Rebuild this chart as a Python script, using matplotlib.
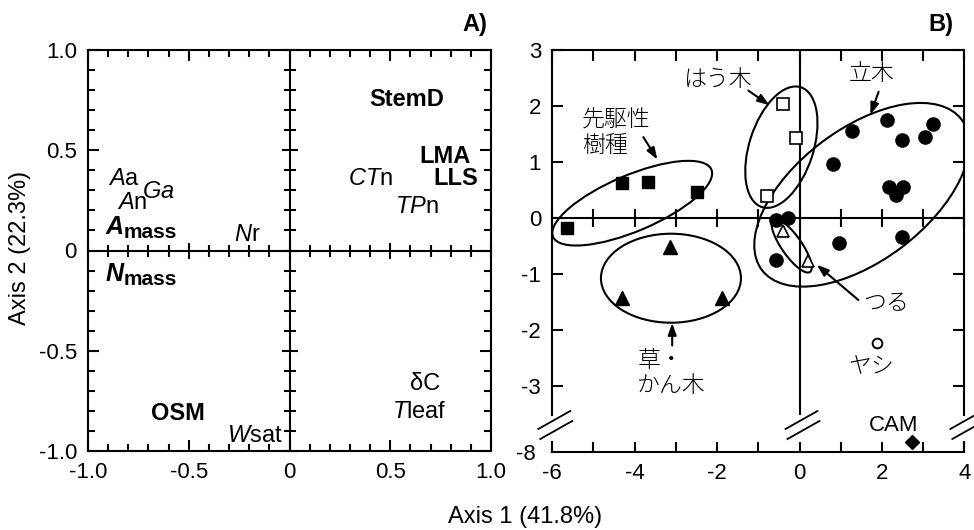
import matplotlib
matplotlib.use('Agg')
import matplotlib.pyplot as plt
from matplotlib.patches import Ellipse
from matplotlib.transforms import ScaledTranslation
from matplotlib.ticker import MultipleLocator

plt.rcParams['font.family'] = ['Liberation Sans', 'DejaVu Sans']
plt.rcParams['mathtext.fontset'] = 'custom'
plt.rcParams['mathtext.rm'] = 'Liberation Sans'
plt.rcParams['mathtext.it'] = 'Liberation Sans:italic'
plt.rcParams['mathtext.bf'] = 'Liberation Sans:bold'
plt.rcParams['axes.linewidth'] = 1.5
JP = ['Noto Sans CJK JP', 'DejaVu Sans']

# ---- Panel A: trait loadings ----
a_ticks = [-1.0, -0.5, 0.0, 0.5, 1.0]
a_ticklabels = ['-1.0', '-0.5', '0', '0.5', '1.0']

trait_labels = [r'$\mathit{A}\mathrm{a}$', r'$\mathit{Ga}$', r'$\mathit{A}\mathrm{n}$',
                r'$\mathit{N}\mathrm{r}$', r'$\mathit{CT}\mathrm{n}$', r'$\mathit{TP}\mathrm{n}$',
                r'$\mathit{W}\mathrm{sat}$', 'δC', r'$\mathit{T}\mathrm{leaf}$']
trait_x = [-0.82, -0.65, -0.78, -0.21, 0.40, 0.63, -0.17, 0.675, 0.645]
trait_y = [0.357, 0.29, 0.236, 0.077, 0.357, 0.219, -0.923, -0.666, -0.803]

key_labels = ['StemD', 'LMA', 'LLS', 'OSM']
key_x = [0.583, 0.774, 0.826, -0.553]
key_y = [0.752, 0.471, 0.361, -0.815]

mass_labels = ['A', 'N']
mass_x = [-0.913, -0.913]
mass_y = [0.116, -0.117]

# ---- Panel B: species scores ----
b_xticks = [-6, -4, -2, 0, 2, 4]
b_xticklabels = ['-6', '-4', '-2', '0', '2', '4']
b_yticks = [-3, -2, -1, 0, 1, 2, 3]
b_yticklabels = ['-3', '-2', '-1', '0', '1', '2', '3']

pioneer_x = [-5.65, -4.31, -3.67, -2.49]
pioneer_y = [-0.17, 0.63, 0.65, 0.47]
creeping_x = [-0.39, -0.08, -0.79]
creeping_y = [2.04, 1.44, 0.40]
tree_x = [1.27, 2.12, 2.49, 3.05, 3.25, 0.81, 2.18, 2.52, 2.34, 2.49, 0.97, -0.57, -0.27, -0.57]
tree_y = [1.56, 1.76, 1.39, 1.46, 1.68, 0.97, 0.56, 0.56, 0.42, -0.33, -0.44, -0.03, 0.01, -0.74]
liana_x = [-0.39, 0.20]
liana_y = [-0.22, -0.76]
herb_x = [-3.14, -4.30, -1.88]
herb_y = [-0.51, -1.43, -1.43]
palm_x = [1.88]
palm_y = [-2.23]
cam_x = [2.74]
cam_y = [-7.82]

# group envelopes: centre (data), size in pixels, angle
ell_x = [-4.06, -0.44, 1.51, -0.19, -3.12]
ell_y = [0.27, 1.27, 0.42, -0.49, -1.07]
ell_w = [172, 126, 250, 64, 140]
ell_h = [56, 64, 132, 20, 89]
ell_ang = [23, 72, 37, -55, 0]

group_text = ['先駆性\n樹種', 'はう木', '立木', 'つる', 'ヤシ', '草・\nかん木']
group_tx = [-4.44, -1.99, 1.76, 2.10, 1.74, -3.10]
group_ty = [1.53, 2.47, 2.58, -1.53, -2.65, -2.77]

arrow_tail_x = [-3.79, -1.24, 1.92, 1.43, -3.09]
arrow_tail_y = [1.45, 2.28, 2.26, -1.46, -2.27]
arrow_head_x = [-3.45, -0.73, 1.72, 0.42, -3.09]
arrow_head_y = [1.05, 2.02, 1.85, -0.83, -1.87]

W, H = 974, 530
fig = plt.figure(figsize=(W / 100, H / 100), dpi=100)


def zero_cross(ax, label, xstep, ystep, maj_len, min_len, do_y=True):
    # extra axes whose spines sit on the zero lines, ticks crossing both ways
    ov = fig.add_axes(ax.get_position(), label=label)
    ov.set_xlim(ax.get_xlim())
    ov.set_ylim(ax.get_ylim())
    ov.patch.set_visible(False)
    ov.spines['top'].set_visible(False)
    ov.spines['right'].set_visible(False)
    ov.spines['bottom'].set_position(('data', 0))
    ov.spines['left'].set_position(('data', 0))
    ov.xaxis.set_major_locator(MultipleLocator(xstep[0]))
    ov.xaxis.set_minor_locator(MultipleLocator(xstep[1]))
    ov.tick_params(axis='x', which='both', direction='inout', labelbottom=False, width=1.5)
    ov.tick_params(axis='x', which='major', length=maj_len)
    ov.tick_params(axis='x', which='minor', length=min_len)
    if do_y:
        ov.yaxis.set_major_locator(MultipleLocator(ystep[0]))
        ov.yaxis.set_minor_locator(MultipleLocator(ystep[1]))
        ov.tick_params(axis='y', which='both', direction='inout', labelleft=False, width=1.5)
        ov.tick_params(axis='y', which='major', length=maj_len)
        ov.tick_params(axis='y', which='minor', length=min_len)
    else:
        ov.spines['left'].set_visible(False)
        ov.tick_params(axis='y', left=False, labelleft=False)
    return ov


# ================= Panel A =================
axA = fig.add_axes([88 / W, 1 - 451 / H, 403 / W, 401 / H])
axA.set_xlim(-1, 1)
axA.set_ylim(-1, 1)
axA.set_xticks(a_ticks, a_ticklabels)
axA.set_yticks(a_ticks, a_ticklabels)
axA.xaxis.set_minor_locator(MultipleLocator(0.1))
axA.yaxis.set_minor_locator(MultipleLocator(0.1))
axA.tick_params(which='both', direction='in', top=True, right=True, width=1.5,
                labelsize=16, pad=8)
axA.tick_params(which='major', length=8)
axA.tick_params(which='minor', length=5)
zero_cross(axA, 'zeroA', (0.5, 0.1), (0.5, 0.1), 12, 9)

for lab, x, y in zip(trait_labels, trait_x, trait_y):
    axA.text(x, y, lab, fontsize=17, ha='center', va='center')
for lab, x, y in zip(key_labels, key_x, key_y):
    axA.text(x, y, lab, fontsize=17, fontweight='bold', ha='center', va='center')
for lab, x, y in zip(mass_labels, mass_x, mass_y):
    t = axA.text(x, y, lab, fontsize=18, fontweight='bold', fontstyle='italic',
                 ha='left', va='center')
    axA.annotate('mass', xy=(1, 0), xycoords=t, xytext=(0, 1), textcoords='offset points',
                 fontsize=15, fontweight='bold', ha='left', va='baseline')

fig.text(487 / W, 1 - 24 / H, 'A)', fontsize=17, fontweight='bold', ha='right', va='center')

# ================= Panel B (broken y axis) =================
y_top = 3
y_bot = y_top - (415 - 50.3) / 56
axB = fig.add_axes([552.3 / W, 1 - 415 / H, 412 / W, (415 - 50.3) / H])
axB.set_xlim(-6, 4)
axB.set_ylim(y_bot, y_top)
axB.spines['bottom'].set_visible(False)
axB.xaxis.set_major_locator(MultipleLocator(1))
axB.tick_params(axis='x', which='both', bottom=False, top=True, labelbottom=False,
                direction='in', length=8, width=1.5)
axB.set_yticks(b_yticks, b_yticklabels)
axB.tick_params(axis='y', which='both', left=True, right=True, direction='in',
                length=8, width=1.5, labelsize=16, pad=8)
axB.axvline(0, color='k', lw=1.5)
zero_cross(axB, 'zeroB', (1, 1), None, 13, 13, do_y=False)

axL = fig.add_axes([552.3 / W, 1 - 452 / H, 412 / W, 22 / H])
axL.set_xlim(-6, 4)
axL.set_ylim(-8, -8 + 22 / 56)
axL.patch.set_visible(False)
axL.spines['top'].set_visible(False)
axL.spines['left'].set_bounds(-8, -8 + 10 / 56)
axL.spines['right'].set_bounds(-8, -8 + 10 / 56)
axL.set_xticks(b_xticks, b_xticklabels)
axL.xaxis.set_minor_locator(MultipleLocator(1))
axL.tick_params(axis='x', which='both', direction='in', length=7, width=1.5,
                labelsize=16, pad=8)
axL.set_yticks([-8], ['-8'])
axL.tick_params(axis='y', length=0, labelsize=16, pad=12)

# break marks
for xb in (-6, 0, 4):
    tr = ScaledTranslation(xb, y_bot, axB.transData)
    axB.plot([-14, 18], [-14, 4], color='k', lw=1.3, transform=tr, clip_on=False)
    axB.plot([-12, 20], [-24, -6], color='k', lw=1.3, transform=tr, clip_on=False)

# envelopes
for cx, cy, w, h, a in zip(ell_x, ell_y, ell_w, ell_h, ell_ang):
    e = Ellipse((0, 0), w, h, angle=a, fill=False, edgecolor='k', lw=1.5,
                transform=ScaledTranslation(cx, cy, axB.transData))
    axB.add_patch(e)

axB.plot(pioneer_x, pioneer_y, 's', color='k', ms=9, ls='none')
axB.plot(creeping_x, creeping_y, 's', mfc='white', mec='k', mew=1.2, ms=8.5, ls='none')
axB.plot(tree_x, tree_y, 'o', color='k', ms=9.5, ls='none')
axB.plot(liana_x, liana_y, '^', mfc='white', mec='k', mew=1.2, ms=8, ls='none')
axB.plot(herb_x, herb_y, '^', color='k', ms=9.5, ls='none')
axB.plot(palm_x, palm_y, 'o', mfc='white', mec='k', mew=1.4, ms=7, ls='none')
axL.plot(cam_x, cam_y, 'D', color='k', ms=7, ls='none', clip_on=False)
axL.annotate('CAM', xy=(cam_x[0], cam_y[0]), xytext=(-19, 16), textcoords='offset pixels',
             fontsize=16, ha='center', va='center', annotation_clip=False)

for txt, x, y in zip(group_text, group_tx, group_ty):
    axB.text(x, y, txt, family=JP, fontsize=16.5, fontweight='light', ha='center',
             va='center', multialignment='left', linespacing=1.0)

for tx, ty, hx, hy in zip(arrow_tail_x, arrow_tail_y, arrow_head_x, arrow_head_y):
    axB.annotate('', xy=(hx, hy), xytext=(tx, ty),
                 arrowprops=dict(arrowstyle='-|>,head_length=0.7,head_width=0.25',
                                 color='k', lw=1.5, shrinkA=0, shrinkB=0))

fig.text(953 / W, 1 - 24 / H, 'B)', fontsize=17, fontweight='bold', ha='right', va='center')

fig.text(525 / W, 1 - 517 / H, 'Axis 1 (41.8%)', fontsize=17, ha='center', va='center')
fig.text(20 / W, 1 - 248 / H, 'Axis 2 (22.3%)', fontsize=17, ha='center', va='center',
         rotation=90)

fig.savefig('out.png', dpi=100)
